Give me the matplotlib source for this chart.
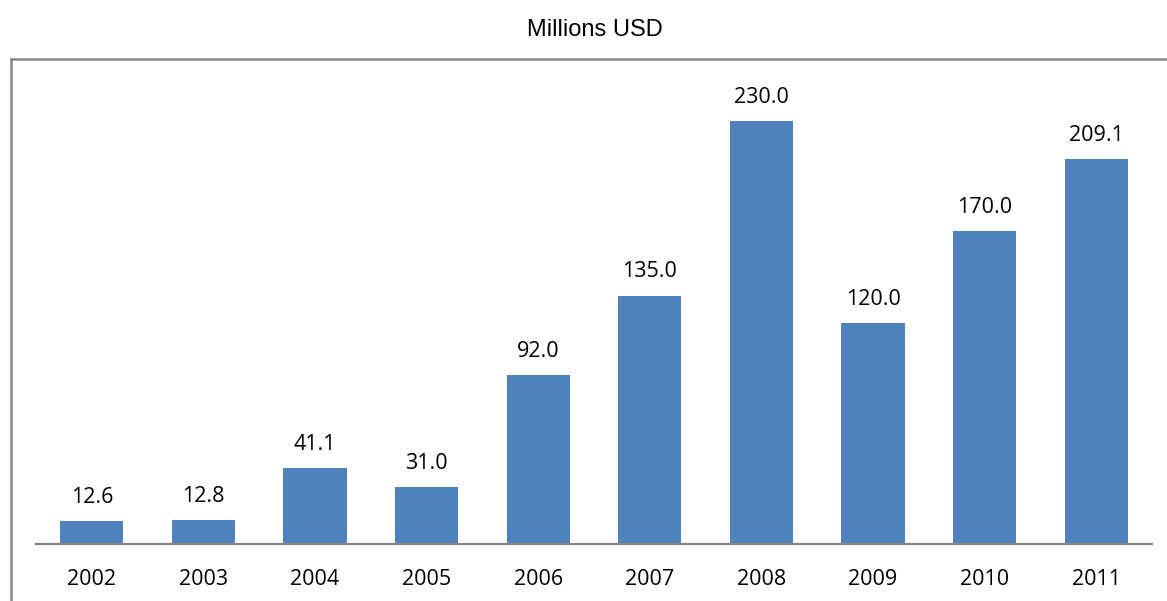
import matplotlib.pyplot as plt
from matplotlib.lines import Line2D

years = ["2002", "2003", "2004", "2005", "2006", "2007", "2008", "2009", "2010", "2011"]
values = [12.6, 12.8, 41.1, 31.0, 92.0, 135.0, 230.0, 120.0, 170.0, 209.1]

bar_color = "#4F81BD"
grey = "#868686"

fig = plt.figure(figsize=(11.67, 6.01), dpi=100)
ax = fig.add_axes([36 / 1167, 57 / 601, 1116 / 1167, 484 / 601])

x = range(len(years))
ax.bar(x, values, width=0.565, color=bar_color, zorder=2)

for i, v in enumerate(values):
    ax.annotate(f"{v:.1f}", (i, v), xytext=(0, 17), textcoords="offset points",
                ha="center", va="center", fontsize=15.5, family="Open Sans")

ax.set_xlim(-0.5, len(years) - 0.5)
ax.set_ylim(0, 263)
ax.set_xticks(list(x))
ax.set_xticklabels(years, fontsize=15.5, family="Open Sans")
ax.tick_params(axis="x", length=0, pad=18)
ax.set_yticks([])

for side in ["top", "right", "left"]:
    ax.spines[side].set_visible(False)
ax.spines["bottom"].set_color(grey)
ax.spines["bottom"].set_linewidth(1.6)
ax.spines["bottom"].set_zorder(3)

# outer chart frame (only left and top edges fall inside the image)
fig.add_artist(Line2D([10.5 / 1167, 10.5 / 1167], [0, 1 - 58 / 601],
                      transform=fig.transFigure, color=grey, lw=1.8,
                      solid_capstyle="butt"))
fig.add_artist(Line2D([10 / 1167, 1], [1 - 58.5 / 601, 1 - 58.5 / 601],
                      transform=fig.transFigure, color=grey, lw=1.8,
                      solid_capstyle="butt"))

fig.text(595 / 1167, 1 - 30 / 601, "Millions USD", ha="center", va="center",
         fontsize=17, family="Liberation Sans")

fig.savefig("out.png", dpi=100)
